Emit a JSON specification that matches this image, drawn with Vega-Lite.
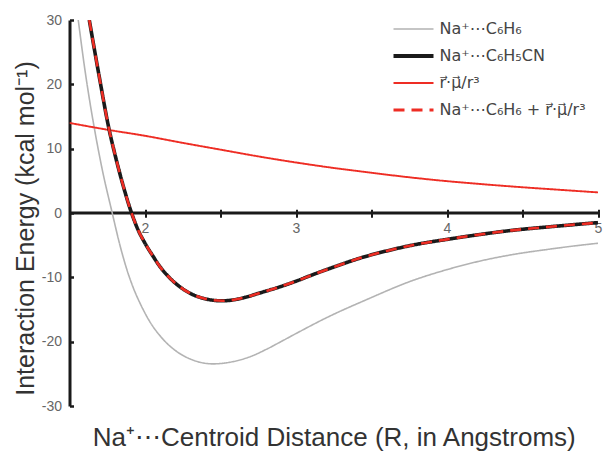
{
  "$schema": "https://vega.github.io/schema/vega-lite/v6.json",
  "width": 528.5,
  "height": 386,
  "autosize": {"type": "none"},
  "padding": {"left": 69.5, "top": 20, "right": 6, "bottom": 49},
  "background": "white",
  "config": {
    "view": {"stroke": null},
    "font": "Liberation Sans",
    "axis": {"grid": false}
  },
  "layer": [
    {
      "data": {"values": [{"zero": 0}]},
      "mark": {"type": "rule", "color": "#1a1a1a", "strokeWidth": 3},
      "encoding": {"y": {"field": "zero", "type": "quantitative"}}
    },
    {
      "data": {"values": [
        {"s": "Na⁺⋯C₆H₆", "r": 1.558, "E": 30},
        {"s": "Na⁺⋯C₆H₆", "r": 1.6, "E": 22.6},
        {"s": "Na⁺⋯C₆H₆", "r": 1.669, "E": 12.6},
        {"s": "Na⁺⋯C₆H₆", "r": 1.72, "E": 6.4},
        {"s": "Na⁺⋯C₆H₆", "r": 1.78, "E": 0.3},
        {"s": "Na⁺⋯C₆H₆", "r": 1.834, "E": -5.0},
        {"s": "Na⁺⋯C₆H₆", "r": 1.88, "E": -8.8},
        {"s": "Na⁺⋯C₆H₆", "r": 1.922, "E": -11.6},
        {"s": "Na⁺⋯C₆H₆", "r": 1.977, "E": -14.5},
        {"s": "Na⁺⋯C₆H₆", "r": 2.032, "E": -16.9},
        {"s": "Na⁺⋯C₆H₆", "r": 2.1, "E": -19.1},
        {"s": "Na⁺⋯C₆H₆", "r": 2.186, "E": -21.1},
        {"s": "Na⁺⋯C₆H₆", "r": 2.3, "E": -22.7},
        {"s": "Na⁺⋯C₆H₆", "r": 2.45, "E": -23.45},
        {"s": "Na⁺⋯C₆H₆", "r": 2.583, "E": -23.1},
        {"s": "Na⁺⋯C₆H₆", "r": 2.7, "E": -22.3},
        {"s": "Na⁺⋯C₆H₆", "r": 2.803, "E": -21.2},
        {"s": "Na⁺⋯C₆H₆", "r": 2.9, "E": -20.0},
        {"s": "Na⁺⋯C₆H₆", "r": 3.023, "E": -18.45},
        {"s": "Na⁺⋯C₆H₆", "r": 3.2, "E": -16.3},
        {"s": "Na⁺⋯C₆H₆", "r": 3.464, "E": -13.5},
        {"s": "Na⁺⋯C₆H₆", "r": 3.772, "E": -10.5},
        {"s": "Na⁺⋯C₆H₆", "r": 4.0, "E": -8.8},
        {"s": "Na⁺⋯C₆H₆", "r": 4.213, "E": -7.5},
        {"s": "Na⁺⋯C₆H₆", "r": 4.45, "E": -6.4},
        {"s": "Na⁺⋯C₆H₆", "r": 4.654, "E": -5.7},
        {"s": "Na⁺⋯C₆H₆", "r": 4.85, "E": -5.1},
        {"s": "Na⁺⋯C₆H₆", "r": 5.0, "E": -4.7},
        {"s": "r⃗·μ⃗/r³", "r": 1.5, "E": 14.0},
        {"s": "r⃗·μ⃗/r³", "r": 1.75, "E": 12.95},
        {"s": "r⃗·μ⃗/r³", "r": 2.0, "E": 12.0},
        {"s": "r⃗·μ⃗/r³", "r": 2.25, "E": 10.9},
        {"s": "r⃗·μ⃗/r³", "r": 2.5, "E": 9.85},
        {"s": "r⃗·μ⃗/r³", "r": 2.75, "E": 8.8},
        {"s": "r⃗·μ⃗/r³", "r": 3.0, "E": 7.85},
        {"s": "r⃗·μ⃗/r³", "r": 3.25, "E": 7.0},
        {"s": "r⃗·μ⃗/r³", "r": 3.5, "E": 6.25},
        {"s": "r⃗·μ⃗/r³", "r": 3.75, "E": 5.55},
        {"s": "r⃗·μ⃗/r³", "r": 4.0, "E": 4.95},
        {"s": "r⃗·μ⃗/r³", "r": 4.25, "E": 4.45},
        {"s": "r⃗·μ⃗/r³", "r": 4.5, "E": 4.0},
        {"s": "r⃗·μ⃗/r³", "r": 4.75, "E": 3.6},
        {"s": "r⃗·μ⃗/r³", "r": 5.0, "E": 3.2},
        {"s": "Na⁺⋯C₆H₅CN", "r": 1.631, "E": 30},
        {"s": "Na⁺⋯C₆H₅CN", "r": 1.7, "E": 20.8},
        {"s": "Na⁺⋯C₆H₅CN", "r": 1.763, "E": 12.9},
        {"s": "Na⁺⋯C₆H₅CN", "r": 1.8, "E": 9.2},
        {"s": "Na⁺⋯C₆H₅CN", "r": 1.85, "E": 4.7},
        {"s": "Na⁺⋯C₆H₅CN", "r": 1.911, "E": 0},
        {"s": "Na⁺⋯C₆H₅CN", "r": 1.95, "E": -2.4},
        {"s": "Na⁺⋯C₆H₅CN", "r": 2.0, "E": -4.7},
        {"s": "Na⁺⋯C₆H₅CN", "r": 2.05, "E": -6.6},
        {"s": "Na⁺⋯C₆H₅CN", "r": 2.098, "E": -8.3},
        {"s": "Na⁺⋯C₆H₅CN", "r": 2.16, "E": -10.0},
        {"s": "Na⁺⋯C₆H₅CN", "r": 2.23, "E": -11.45},
        {"s": "Na⁺⋯C₆H₅CN", "r": 2.3, "E": -12.5},
        {"s": "Na⁺⋯C₆H₅CN", "r": 2.384, "E": -13.25},
        {"s": "Na⁺⋯C₆H₅CN", "r": 2.51, "E": -13.65},
        {"s": "Na⁺⋯C₆H₅CN", "r": 2.65, "E": -13.2},
        {"s": "Na⁺⋯C₆H₅CN", "r": 2.75, "E": -12.5},
        {"s": "Na⁺⋯C₆H₅CN", "r": 2.89, "E": -11.5},
        {"s": "Na⁺⋯C₆H₅CN", "r": 3.0, "E": -10.6},
        {"s": "Na⁺⋯C₆H₅CN", "r": 3.11, "E": -9.6},
        {"s": "Na⁺⋯C₆H₅CN", "r": 3.25, "E": -8.4},
        {"s": "Na⁺⋯C₆H₅CN", "r": 3.44, "E": -6.9},
        {"s": "Na⁺⋯C₆H₅CN", "r": 3.6, "E": -5.9},
        {"s": "Na⁺⋯C₆H₅CN", "r": 3.77, "E": -5.0},
        {"s": "Na⁺⋯C₆H₅CN", "r": 4.0, "E": -4.1},
        {"s": "Na⁺⋯C₆H₅CN", "r": 4.2, "E": -3.4},
        {"s": "Na⁺⋯C₆H₅CN", "r": 4.43, "E": -2.7},
        {"s": "Na⁺⋯C₆H₅CN", "r": 4.7, "E": -2.1},
        {"s": "Na⁺⋯C₆H₅CN", "r": 5.0, "E": -1.5},
        {"s": "Na⁺⋯C₆H₆ + r⃗·μ⃗/r³", "r": 1.631, "E": 30},
        {"s": "Na⁺⋯C₆H₆ + r⃗·μ⃗/r³", "r": 1.7, "E": 20.8},
        {"s": "Na⁺⋯C₆H₆ + r⃗·μ⃗/r³", "r": 1.763, "E": 12.9},
        {"s": "Na⁺⋯C₆H₆ + r⃗·μ⃗/r³", "r": 1.8, "E": 9.2},
        {"s": "Na⁺⋯C₆H₆ + r⃗·μ⃗/r³", "r": 1.85, "E": 4.7},
        {"s": "Na⁺⋯C₆H₆ + r⃗·μ⃗/r³", "r": 1.911, "E": 0},
        {"s": "Na⁺⋯C₆H₆ + r⃗·μ⃗/r³", "r": 1.95, "E": -2.4},
        {"s": "Na⁺⋯C₆H₆ + r⃗·μ⃗/r³", "r": 2.0, "E": -4.7},
        {"s": "Na⁺⋯C₆H₆ + r⃗·μ⃗/r³", "r": 2.05, "E": -6.6},
        {"s": "Na⁺⋯C₆H₆ + r⃗·μ⃗/r³", "r": 2.098, "E": -8.3},
        {"s": "Na⁺⋯C₆H₆ + r⃗·μ⃗/r³", "r": 2.16, "E": -10.0},
        {"s": "Na⁺⋯C₆H₆ + r⃗·μ⃗/r³", "r": 2.23, "E": -11.45},
        {"s": "Na⁺⋯C₆H₆ + r⃗·μ⃗/r³", "r": 2.3, "E": -12.5},
        {"s": "Na⁺⋯C₆H₆ + r⃗·μ⃗/r³", "r": 2.384, "E": -13.25},
        {"s": "Na⁺⋯C₆H₆ + r⃗·μ⃗/r³", "r": 2.51, "E": -13.65},
        {"s": "Na⁺⋯C₆H₆ + r⃗·μ⃗/r³", "r": 2.65, "E": -13.2},
        {"s": "Na⁺⋯C₆H₆ + r⃗·μ⃗/r³", "r": 2.75, "E": -12.5},
        {"s": "Na⁺⋯C₆H₆ + r⃗·μ⃗/r³", "r": 2.89, "E": -11.5},
        {"s": "Na⁺⋯C₆H₆ + r⃗·μ⃗/r³", "r": 3.0, "E": -10.6},
        {"s": "Na⁺⋯C₆H₆ + r⃗·μ⃗/r³", "r": 3.11, "E": -9.6},
        {"s": "Na⁺⋯C₆H₆ + r⃗·μ⃗/r³", "r": 3.25, "E": -8.4},
        {"s": "Na⁺⋯C₆H₆ + r⃗·μ⃗/r³", "r": 3.44, "E": -6.9},
        {"s": "Na⁺⋯C₆H₆ + r⃗·μ⃗/r³", "r": 3.6, "E": -5.9},
        {"s": "Na⁺⋯C₆H₆ + r⃗·μ⃗/r³", "r": 3.77, "E": -5.0},
        {"s": "Na⁺⋯C₆H₆ + r⃗·μ⃗/r³", "r": 4.0, "E": -4.1},
        {"s": "Na⁺⋯C₆H₆ + r⃗·μ⃗/r³", "r": 4.2, "E": -3.4},
        {"s": "Na⁺⋯C₆H₆ + r⃗·μ⃗/r³", "r": 4.43, "E": -2.7},
        {"s": "Na⁺⋯C₆H₆ + r⃗·μ⃗/r³", "r": 4.7, "E": -2.1},
        {"s": "Na⁺⋯C₆H₆ + r⃗·μ⃗/r³", "r": 5.0, "E": -1.5}
      ]},
      "encoding": {
        "x": {
          "field": "r", "type": "quantitative",
          "scale": {"domain": [1.5, 5], "nice": false, "zero": false},
          "axis": {
            "title": "Na⁺⋯Centroid Distance (R, in Angstroms)",
            "offset": -196.7,
            "domain": false,
            "values": [2, 2.5, 3, 3.5, 4, 4.5, 5],
            "labelExpr": "datum.value % 1 == 0 ? format(datum.value, 'd') : ''",
            "tickSize": 8, "tickWidth": 2, "tickColor": "#1a1a1a",
            "labelFontSize": 14, "labelColor": "#666666", "labelPadding": 4,
            "labelFlush": false,
            "titleFontSize": 26, "titleFontWeight": "normal", "titleColor": "#333333",
            "titleY": 215
          }
        },
        "y": {
          "field": "E", "type": "quantitative",
          "scale": {"domain": [-30, 30], "nice": false},
          "axis": {
            "title": "Interaction Energy (kcal mol⁻¹)",
            "values": [-30, -20, -10, 0, 10, 20, 30],
            "labelExpr": "replace(datum.label, '−', '-')",
            "domainColor": "#1a1a1a", "domainWidth": 3,
            "tickSize": -4, "tickWidth": 2.5, "tickColor": "#1a1a1a",
            "labelFontSize": 14, "labelColor": "#666666", "labelPadding": 12,
            "labelFlush": false,
            "titleFontSize": 25, "titleFontWeight": "normal", "titleColor": "#333333",
            "titlePadding": 3,
            "titleY": 208
          }
        },
        "color": {
          "field": "s", "type": "nominal",
          "scale": {
            "domain": ["Na⁺⋯C₆H₆", "Na⁺⋯C₆H₅CN", "r⃗·μ⃗/r³", "Na⁺⋯C₆H₆ + r⃗·μ⃗/r³"],
            "range": ["#b3b3b3", "#1a1a1a", "#ee2d24", "#ee2d24"]
          },
          "legend": {
            "title": null,
            "orient": "none",
            "legendX": 336,
            "legendY": 1,
            "symbolType": "stroke",
            "symbolSize": 1600,
            "labelFont": "DejaVu Sans",
            "labelFontSize": 16,
            "labelColor": "#444444",
            "labelOffset": 18,
            "rowPadding": 11,
            "encode": {
              "symbols": {
                "update": {
                  "strokeWidth": {"signal": "datum.value == 'Na⁺⋯C₆H₅CN' ? 4 : datum.value == 'Na⁺⋯C₆H₆ + r⃗·μ⃗/r³' ? 3 : datum.value == 'r⃗·μ⃗/r³' ? 2 : 1.7"}
                }
              }
            }
          }
        },
        "strokeDash": {
          "field": "s", "type": "nominal",
          "scale": {
            "domain": ["Na⁺⋯C₆H₆", "Na⁺⋯C₆H₅CN", "r⃗·μ⃗/r³", "Na⁺⋯C₆H₆ + r⃗·μ⃗/r³"],
            "range": [[1, 0], [1, 0], [1, 0], [11, 7]]
          }
        }
      },
      "layer": [
        {"transform": [{"filter": "datum.s == 'Na⁺⋯C₆H₆'"}], "mark": {"type": "line", "interpolate": "monotone", "clip": true, "strokeWidth": 1.6}},
        {"transform": [{"filter": "datum.s == 'r⃗·μ⃗/r³'"}], "mark": {"type": "line", "interpolate": "monotone", "clip": true, "strokeWidth": 1.9}},
        {"transform": [{"filter": "datum.s == 'Na⁺⋯C₆H₅CN'"}], "mark": {"type": "line", "interpolate": "monotone", "clip": true, "strokeWidth": 3.6}},
        {"transform": [{"filter": "datum.s == 'Na⁺⋯C₆H₆ + r⃗·μ⃗/r³'"}], "mark": {"type": "line", "interpolate": "monotone", "clip": true, "strokeWidth": 2.6}}
      ]
    }
  ]
}
